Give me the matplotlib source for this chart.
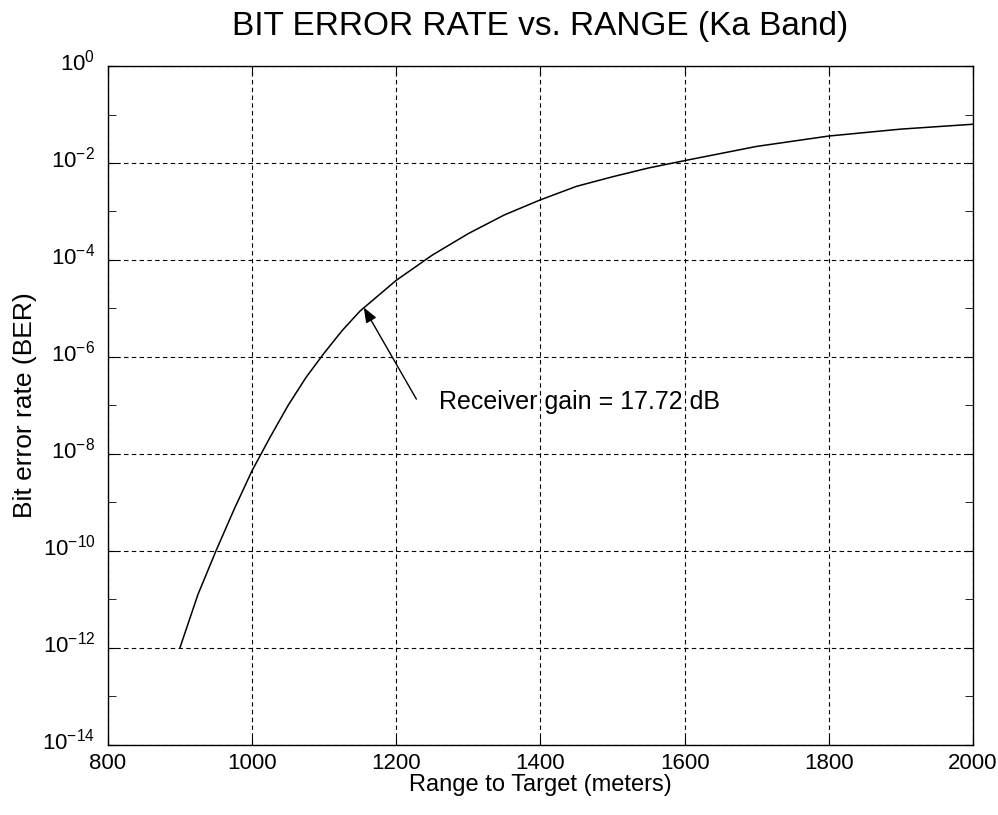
import matplotlib
matplotlib.use("Agg")
import matplotlib.pyplot as plt
import matplotlib.ticker as mticker
import matplotlib.transforms as mtrans
import numpy as np

plt.rcParams['font.family'] = ['Liberation Sans', 'DejaVu Sans']
plt.rcParams['mathtext.fontset'] = 'custom'
plt.rcParams['mathtext.rm'] = 'Liberation Sans'
plt.rcParams['mathtext.default'] = 'regular'

range_m = [900, 925, 950, 975, 1000, 1025, 1050, 1075, 1100, 1125, 1150, 1200, 1250,
           1300, 1350, 1400, 1450, 1500, 1550, 1600, 1700, 1800, 1900, 2000]
ber = [1e-12, 1.26e-11, 1e-10, 7.1e-10, 4.5e-9, 2.2e-8, 1e-7, 3.8e-7, 1.2e-6, 3.5e-6,
       8.9e-6, 3.8e-5, 1.26e-4, 3.5e-4, 8.5e-4, 1.74e-3, 3.3e-3, 5.2e-3, 7.9e-3,
       1.12e-2, 2.2e-2, 3.6e-2, 5e-2, 6.3e-2]
x_ticks = [800, 1000, 1200, 1400, 1600, 1800, 2000]
y_major = [1e0, 1e-2, 1e-4, 1e-6, 1e-8, 1e-10, 1e-12, 1e-14]
y_minor = [1e-1, 1e-3, 1e-5, 1e-7, 1e-9, 1e-11, 1e-13]

fig = plt.figure(figsize=(9.98, 8.15), dpi=100)
ax = fig.add_axes([0.108, 0.086, 0.867, 0.833])
ax.plot(range_m, ber, color='black', lw=1.1)
ax.set_yscale('log')
ax.set_xlim(800, 2000)
ax.set_ylim(1e-14, 1e0)
ax.set_xticks(x_ticks)
ax.set_yticks(y_major)
ax.yaxis.set_major_formatter(mticker.LogFormatterSciNotation())
ax.yaxis.set_minor_locator(mticker.FixedLocator(y_minor))
ax.yaxis.set_minor_formatter(mticker.NullFormatter())
ax.grid(True, which='major', linestyle=(0, (4, 3)), color='black', lw=0.8)
ax.tick_params(which='both', direction='in', top=True, right=True, labelsize=16)
ax.tick_params(which='major', length=6)
ax.tick_params(which='minor', length=6)
ax.tick_params(axis='x', pad=6)
ax.tick_params(axis='y', pad=9)
for s in ax.spines.values():
    s.set_linewidth(1.0)

offset = mtrans.ScaledTranslation(0, 6 / 100, fig.dpi_scale_trans)
for lbl in ax.get_yticklabels():
    lbl.set_transform(lbl.get_transform() + offset)

ax.set_title('BIT ERROR RATE vs. RANGE (Ka Band)', fontsize=24, pad=22)
ax.set_xlabel('Range to Target (meters)', fontsize=17, labelpad=0)
ax.set_ylabel('Bit error rate (BER)', fontsize=19, labelpad=4)

ax.annotate('', xy=(1155, 1.05e-5), xytext=(1228, 1.35e-7),
            arrowprops=dict(arrowstyle='-|>,head_length=0.9,head_width=0.35',
                            color='black', lw=1.0, shrinkA=0, shrinkB=0))
ax.text(1259, 1.2e-7, 'Receiver gain = 17.72 dB', fontsize=18, va='center', ha='left')

fig.savefig('out.png', dpi=100)
